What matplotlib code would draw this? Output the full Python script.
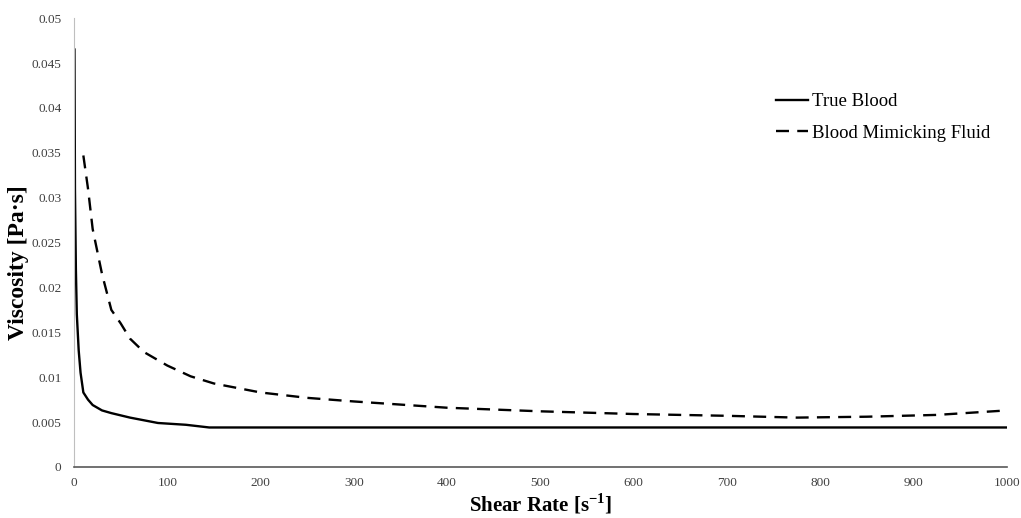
import matplotlib
matplotlib.use("Agg")
import matplotlib.pyplot as plt

# True Blood viscosity vs shear rate
blood_rate = [0.5, 1, 2, 3, 5, 7, 10, 15, 20, 30, 40, 60, 80, 90, 120, 145, 200, 400, 600, 800, 1000]
blood_visc = [0.0465, 0.031, 0.022, 0.017, 0.013, 0.0105, 0.0083, 0.0075, 0.0069, 0.0063, 0.006, 0.0055,
              0.0051, 0.0049, 0.0047, 0.0044, 0.0044, 0.0044, 0.0044, 0.0044, 0.0044]

# Blood mimicking fluid
bmf_rate = [10, 15, 20, 25, 30, 40, 50, 60, 75, 100, 125, 150, 200, 250, 300, 400, 500, 600, 700, 775,
            850, 925, 1000]
bmf_visc = [0.0347, 0.031, 0.0265, 0.024, 0.0215, 0.0175, 0.016, 0.0143, 0.0128, 0.0113, 0.0101, 0.0093,
            0.0083, 0.0077, 0.0073, 0.0066, 0.0062, 0.0059, 0.0057, 0.0055, 0.0056, 0.0058, 0.0063]

plt.rcParams['font.family'] = ['Liberation Serif', 'DejaVu Serif']

fig = plt.figure(figsize=(10.21, 5.18), dpi=100)
ax = fig.add_axes([0.0725, 0.0985, 0.9135, 0.8665])

ax.plot(blood_rate, blood_visc, color='black', lw=1.7, label='True Blood')
ax.plot(bmf_rate, bmf_visc, color='black', lw=1.7, ls=(0, (5.5, 3.5)), label='Blood Mimicking Fluid')

ax.set_xlim(0, 1000)
ax.set_ylim(0, 0.05)
ax.set_xticks(range(0, 1001, 100))
ax.set_yticks([i * 0.005 for i in range(11)])
ax.set_yticklabels(['0', '0.005', '0.01', '0.015', '0.02', '0.025', '0.03', '0.035', '0.04', '0.045', '0.05'])
ax.tick_params(length=0, labelsize=9.5, colors='#404040')
ax.tick_params(axis='y', pad=9)
ax.tick_params(axis='x', pad=7)

for s in ['top', 'right']:
    ax.spines[s].set_visible(False)
ax.spines['left'].set_color('#bfbfbf')
ax.spines['bottom'].set_color('#595959')
ax.spines['bottom'].set_linewidth(1.2)

ax.set_xlabel('Shear Rate [s$^{\\mathregular{-1}}$]', fontsize=15, fontweight='bold', labelpad=2)
ax.set_ylabel('Viscosity [Pa·s]', fontsize=17, fontweight='bold')
ax.yaxis.set_label_coords(-0.048, 0.455)

ax.legend(loc='upper right', bbox_to_anchor=(1.0, 0.87), frameon=False, fontsize=13.5,
          handlelength=1.7, handletextpad=0.2, labelspacing=0.75)

fig.savefig('out.png', dpi=100)
